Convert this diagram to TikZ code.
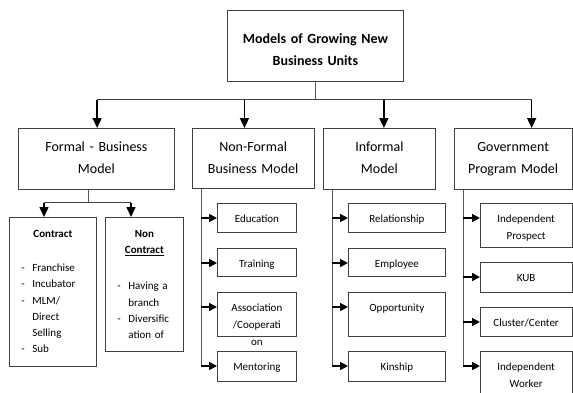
\documentclass[tikz,border=0pt]{standalone}
\usepackage{fontspec}
\setmainfont{Carlito}
\usetikzlibrary{arrows.meta,positioning,calc}
\definecolor{boxgray}{HTML}{404040}
\definecolor{linegray}{HTML}{5A5A5A}
% list lines inside the contract boxes
\newcommand{\dashitem}[1]{\hspace*{12pt}\makebox[11pt][l]{-}#1}
\newcommand{\moreitem}[1]{\hspace*{23pt}#1}

\tikzset{
  topbox/.style={draw=boxgray, line width=0.8pt, inner sep=0pt, anchor=north west, align=center,
    font=\bfseries\fontsize{14}{22}\selectfont, text height=33pt, text depth=38pt},
  modelbox/.style={draw=boxgray, line width=0.8pt, inner sep=0pt, anchor=north west, align=center,
    font=\fontsize{14}{22}\selectfont, text height=23pt, text depth=38pt},
  itembox/.style={draw=boxgray, line width=0.8pt, inner sep=0pt, anchor=north west, align=center,
    font=\fontsize{11}{17}\selectfont, text height=19.5pt, text depth=#1},
  listbox/.style={draw=boxgray, line width=0.8pt, inner sep=0pt, anchor=north west, align=left,
    font=\fontsize{11}{16.3}\selectfont, text height=20pt, text depth=#1},
  thinline/.style={draw=linegray, line width=0.7pt},
  busline/.style={draw=boxgray, line width=1pt},
  droparrow/.style={draw=black, line width=1.6pt, -{Triangle[length=10pt,width=9pt]}},
  sidearrow/.style={draw=black, line width=1.6pt, -{Triangle[length=8pt,width=8pt]}}
}

\begin{document}
\begin{tikzpicture}[x=1pt, y=-1pt]
    \path[use as bounding box, fill=white] (0,0) rectangle (573,392);

    % Main title
    \node[topbox, text width=176pt] (title) at (227,10) {Models of Growing New\\Business Units};

    % The four models
    \node[modelbox, text width=156pt] (formal) at (18,128) {Formal - Business\\Model};
    \node[modelbox, text width=121.5pt, text depth=37pt] (nonformal) at (192,128) {Non-Formal\\Business Model};
    \node[modelbox, text width=112pt] (informal) at (323,128) {Informal\\Model};
    \node[modelbox, text width=117.5pt] (govt) at (454,128) {Government\\Program Model};

    \coordinate (bus) at ($(title.south)+(0,18)$);
    \foreach \n/\dx in {formal/0.7, nonformal/-8.7, informal/4.5, govt/18.5}
        \coordinate (\n-drop) at ($(\n.north)+(\dx,0)$);
    \draw[thinline] (title.south) -- (bus);
    \draw[busline] (formal-drop |- bus) -- (govt-drop |- bus);
    \foreach \n in {formal,nonformal,informal,govt}
        \draw[droparrow] (\n-drop |- bus) -- (\n-drop);

    % Formal: contract / non contract
    \node[listbox=129pt, text width=87pt] (contract) at (9,217) {%
        \makebox[\linewidth]{\textbf{Contract}}\\[17.7pt]
        \dashitem{Franchise}\\
        \dashitem{Incubator}\\
        \dashitem{MLM/}\\
        \moreitem{Direct}\\
        \moreitem{Selling}\\
        \dashitem{Sub}};
    \node[listbox=114pt, text width=78pt] (noncontract) at (105,217) {%
        \makebox[\linewidth]{\textbf{Non}}\\
        \makebox[\linewidth]{\underline{\textbf{Contract}}}\\[19.7pt]
        \dashitem{Having a}\\
        \moreitem{branch}\\
        \dashitem{Diversific}\\
        \moreitem{ation of}};

    \coordinate (fsplit) at ($(formal.south)+(-8,13)$);
    \coordinate (contract-drop) at ($(contract.north west)+(35,0)$);
    \coordinate (noncontract-drop) at ($(noncontract.north west)+(26,0)$);
    \draw[thinline] (formal.south -| fsplit) -- (fsplit);
    \draw[busline] (contract-drop |- fsplit) -- (noncontract-drop |- fsplit);
    \foreach \n in {contract,noncontract}
        \draw[droparrow] (\n-drop |- fsplit) -- (\n-drop);

    % Non-formal items
    \node[itembox=9.5pt, text width=79pt] (edu) at (217,203) {Education};
    \node[itembox=8.5pt, text width=79pt] (train) at (217,248) {Training};
    \node[itembox=24.5pt, text width=79pt] (assoc) at (217,292) {Association\\/Cooperati\\on};
    \node[itembox=10.5pt, text width=79pt] (mentor) at (217,351) {Mentoring};

    % Informal items
    \node[itembox=9.5pt, text width=97pt] (relation) at (348,203) {Relationship};
    \node[itembox=8.5pt, text width=97pt] (employee) at (348,248) {Employee};
    \node[itembox=24.5pt, text width=97pt] (chance) at (348,292) {Opportunity};
    \node[itembox=10.5pt, text width=97pt] (kinship) at (348,351) {Kinship};

    % Government program items
    \node[itembox=24.5pt, text width=91.5pt] (prospect) at (480,203) {Independent\\Prospect};
    \node[itembox=10.5pt, text width=91.5pt] (kub) at (480,262) {KUB};
    \node[itembox=9.5pt, text width=91.5pt] (cluster) at (480,307) {Cluster/Center};
    \node[itembox=30.5pt, text width=91.5pt] (worker) at (480,351) {Independent\\Worker};

    % Trunks and side arrows
    \foreach \m/\items/\last in {nonformal/{edu,train,assoc,mentor}/mentor,
                                 informal/{relation,employee,chance,kinship}/kinship,
                                 govt/{prospect,kub,cluster,worker}/worker} {
        \coordinate (\m-trunk) at ($(\m.south west)+(9,0)$);
        \foreach \b in \items
            \coordinate (\b-in) at ([yshift=-15pt]\b.north west);
        \draw[thinline] (\m-trunk) -- (\m-trunk |- \last-in);
        \foreach \b in \items
            \draw[sidearrow] (\m-trunk |- \b-in) -- (\b-in);
    }
\end{tikzpicture}
\end{document}
